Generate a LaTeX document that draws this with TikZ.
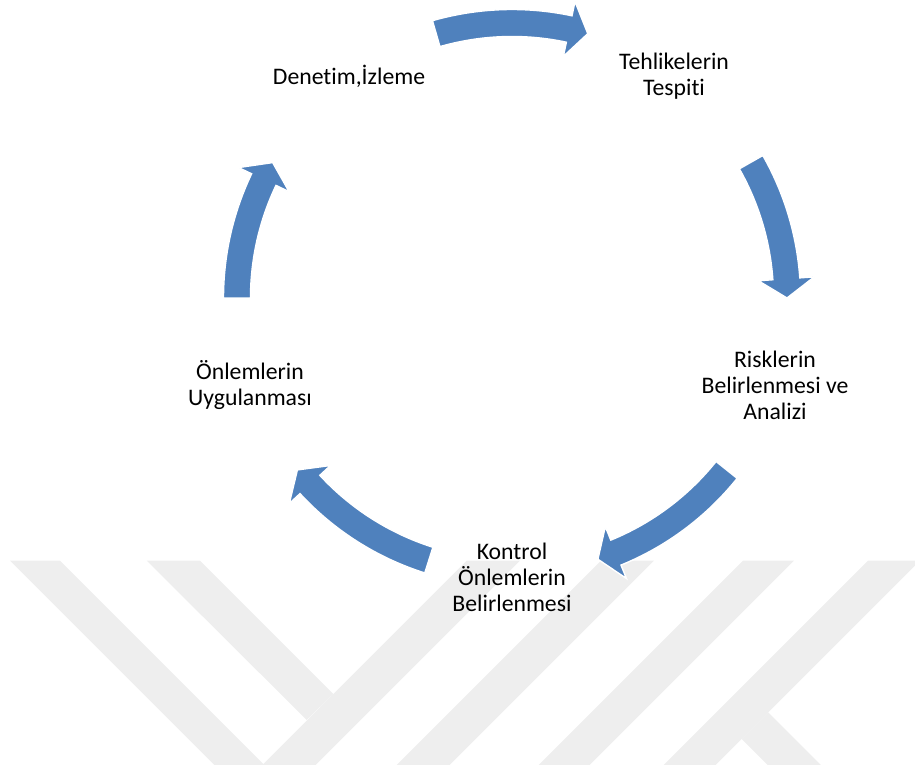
\documentclass[tikz,border=0pt]{standalone}
\usepackage{fontspec}
\setmainfont{Carlito}[Ligatures={NoCommon}]
\definecolor{cycblue}{RGB}{79,129,189}
\definecolor{wmgray}{RGB}{238,238,238}

\begin{document}
\begin{tikzpicture}[
  lbl/.style={align=center,inner sep=0pt,font=\fontsize{13.5}{14.8}\selectfont},
  cyc/.style={fill=cycblue,draw=white,line width=0.8pt},
  wm/.style={fill=wmgray}]

\useasboundingbox (0,0) rectangle (18.3,15.3);

% watermark in the lower part
\begin{scope}
\clip (0,0) rectangle (18.3,4.086);
\fill[wm] (0.2,4.086) -- (1.2,4.086) -- (5.586,-0.3) -- (4.586,-0.3) -- cycle;
\fill[wm] (2.934,4.086) -- (4.0,4.086) -- (6.666,1.42) -- (6.134,0.9) -- cycle;
\fill[wm] (9.334,4.086) -- (10.4,4.086) -- (6.014,-0.3) -- (4.946,-0.3) -- cycle;
\fill[wm] (12.02,4.086) -- (13.08,4.086) -- (8.694,-0.3) -- (7.634,-0.3) -- cycle;
\fill[wm] (14.86,4.086) -- (15.88,4.086) -- (11.494,-0.3) -- (10.474,-0.3) -- cycle;
\fill[wm] (17.36,4.086) -- (18.4,4.086) -- (14.014,-0.3) -- (12.974,-0.3) -- cycle;
\fill[wm] (14.834,0.52) -- (15.366,1.052) -- (16.718,-0.3) -- (15.654,-0.3) -- cycle;
\end{scope}

\coordinate (O) at (10.24,9.34);

\node[lbl] (tehlike) at (13.48,13.78) {Tehlikelerin\\Tespiti};
\node[lbl] (risk) at (15.5,7.6) {Risklerin\\Belirlenmesi ve\\Analizi};
\node[lbl] (kontrol) at (10.24,3.76) {Kontrol\\Önlemlerin\\Belirlenmesi};
\node[lbl] (uygula) at (5.0,7.6) {Önlemlerin\\Uygulanması};
\node[lbl] (denetim) at (6.98,13.78) {Denetim,İzleme};

% cycle arrows
\begin{scope}[shift={(O)}]
\path[cyc] (106:5.77) arc[start angle=106,end angle=78,radius=5.77] -- (78:6.06) -- (74:5.5) -- (78:4.94) -- (78:5.23) arc[start angle=78,end angle=106,radius=5.23] -- cycle;
\path[cyc] (29.6:5.77) arc[start angle=29.6,end angle=4,radius=5.77] -- (4:6.06) -- (0:5.5) -- (4:4.94) -- (4:5.23) arc[start angle=4,end angle=29.6,radius=5.23] -- cycle;
\path[cyc] (-38.7:5.77) arc[start angle=-38.7,end angle=-67.8,radius=5.77] -- (-67.8:6.06) -- (-71.8:5.5) -- (-67.8:4.94) -- (-67.8:5.23) arc[start angle=-67.8,end angle=-38.7,radius=5.23] -- cycle;
\path[cyc] (-107.6:5.77) arc[start angle=-107.6,end angle=-137.3,radius=5.77] -- (-137.3:6.06) -- (-141.3:5.5) -- (-137.3:4.94) -- (-137.3:5.23) arc[start angle=-137.3,end angle=-107.6,radius=5.23] -- cycle;
\path[cyc] (180:5.77) arc[start angle=180,end angle=154.5,radius=5.77] -- (154.5:6.06) -- (150.5:5.5) -- (154.5:4.94) -- (154.5:5.23) arc[start angle=154.5,end angle=180,radius=5.23] -- cycle;
\end{scope}

\end{tikzpicture}
\end{document}
